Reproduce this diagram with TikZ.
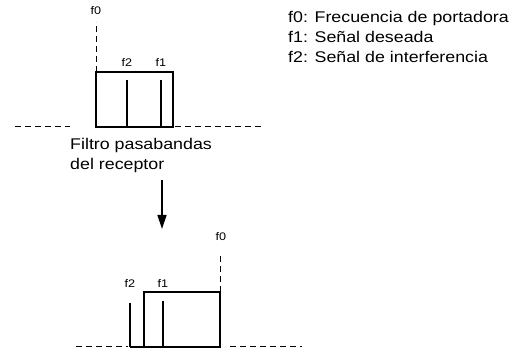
\documentclass[tikz,border=0pt]{standalone}
\usepackage{fontspec}
\setmainfont{Liberation Sans}
\newfontfamily\widefont[FakeStretch=1.15]{Liberation Sans}
\usetikzlibrary{arrows.meta}
\begin{document}
\begin{tikzpicture}[x=1pt,y=-1pt,
  lbl/.style={font=\widefont\fontsize{11}{13}\selectfont, inner sep=0pt, anchor=base},
  txt/.style={font=\widefont\fontsize{15.5}{18}\selectfont, inner sep=0pt, anchor=base west},
  axis/.style={line width=1pt, dash pattern=on 6pt off 4pt},
  marker/.style={line width=0.9pt, dash pattern=on 6pt off 4pt},
  boxln/.style={line width=1.2pt},
  sigthin/.style={line width=1.6pt},
  sigthick/.style={line width=2.6pt}]
\useasboundingbox (0,0) rectangle (528,352);

% ---- top spectrum ----
\coordinate (tA) at (15,127);
\coordinate (tB) at (70,127);
\coordinate (tC) at (175,127);
\coordinate (tD) at (262,127);
\draw[axis] (tA) -- (tB);
\draw[axis] (tC) -- (tD);
\draw[boxln] (96,127) rectangle (173,72);
\coordinate (tf0b) at (96,72);
\coordinate (tf0t) at (96,22);
\draw[marker] (tf0b) -- (tf0t);
\node[lbl] (tf0) at (96,15) {f0};
\draw[sigthin] (127,80) -- (127,127);
\draw[sigthick] (161,80) -- (161,127);
\node[lbl] (tf2) at (127,67) {f2};
\node[lbl] (tf1) at (161,67) {f1};

% ---- legend ----
\node[txt] (l0) at (288,23) {f0: Frecuencia de portadora};
\node[txt] (l1) at (288,43) {f1: Señal deseada};
\node[txt] (l2) at (288,63) {f2: Señal de interferencia};

% ---- filter label and arrow ----
\node[txt] (filt1) at (70,150) {Filtro pasabandas};
\node[txt] (filt2) at (70,170) {del receptor};
\coordinate (arA) at (162,180);
\coordinate (arB) at (162,229);
\draw[line width=1.4pt, -{Triangle[length=14pt,width=9pt]}] (arA) -- (arB);

% ---- bottom spectrum ----
\coordinate (bA) at (76,347);
\coordinate (bB) at (128,347);
\coordinate (bC) at (230,347);
\coordinate (bD) at (302,347);
\draw[axis] (bA) -- (bB);
\draw[axis] (bC) -- (bD);
\draw[boxln] (130,347) -- (220,347);
\draw[boxln] (144,347) rectangle (220,292);
\coordinate (bf0b) at (220,292);
\coordinate (bf0t) at (220,253);
\draw[marker] (bf0b) -- (bf0t);
\node[lbl] (bf0) at (221,241) {f0};
\draw[sigthin] (130,303) -- (130,347);
\draw[sigthick] (163,301) -- (163,347);
\node[lbl] (bf2) at (130,288) {f2};
\node[lbl] (bf1) at (163,288) {f1};
\end{tikzpicture}
\end{document}
